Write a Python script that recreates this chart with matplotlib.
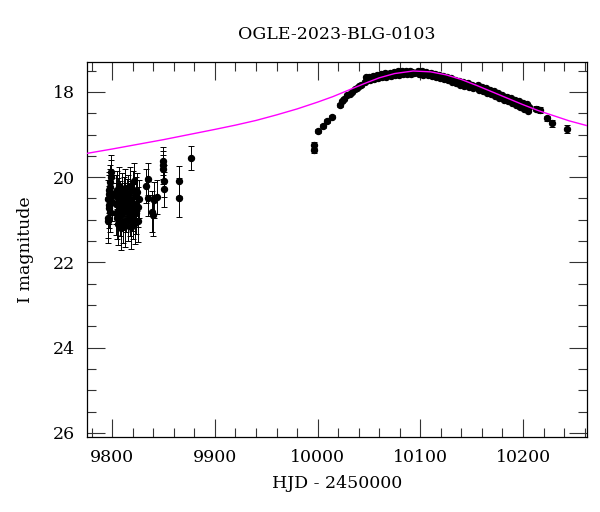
import matplotlib
matplotlib.use('Agg')
import matplotlib.pyplot as plt
import matplotlib.ticker as ticker

plt.rcParams['font.family'] = ['DejaVu Serif']

TITLE = "OGLE-2023-BLG-0103"

# --- baseline (faint, noisy) ---
base_hjd = [9795.6, 9796.0, 9796.2, 9796.5, 9796.8, 9797.0, 9797.3, 9797.5,
            9797.8, 9798.0, 9798.3, 9798.6, 9798.9, 9799.2, 9799.5,
            9803.2, 9803.6, 9804.0, 9804.5, 9805.0, 9805.5, 9806.0, 9806.5,
            9807.0, 9807.5, 9808.0, 9808.6, 9809.2, 9809.8, 9810.4, 9811.0,
            9811.6, 9812.2, 9812.8, 9813.4, 9814.0, 9815.0, 9815.6, 9816.2,
            9816.8, 9817.4, 9818.0, 9818.6, 9819.2, 9819.8, 9820.4, 9821.0,
            9821.6, 9822.2, 9822.8, 9823.4, 9824.0, 9824.6, 9825.2, 9825.8,
            9832.5, 9834.5, 9835.0, 9838.4, 9839.3, 9840.6, 9843.2,
            9849.7, 9849.7, 9849.9, 9850.0, 9850.2, 9864.6, 9864.6, 9876.6]
base_mag = [20.52, 20.95, 21.04, 20.30, 20.65, 20.40, 20.73, 20.22,
            20.11, 20.81, 20.46, 19.99, 19.87, 20.38, 20.58,
            20.40, 20.62, 20.85, 20.30, 20.95, 20.50, 21.10, 20.70,
            20.20, 20.55, 20.90, 21.20, 20.35, 20.75, 21.05, 20.45,
            20.60, 21.15, 20.25, 20.80, 20.50, 21.00, 20.40, 20.65,
            20.90, 20.20, 21.18, 20.55, 20.78, 20.30, 20.95, 20.10,
            20.62, 21.08, 20.45, 20.85, 20.35, 20.70, 21.02, 20.52,
            20.21, 20.50, 20.05, 20.81, 20.89, 20.54, 20.46,
            19.62, 19.72, 19.82, 20.09, 20.29, 20.09, 20.48, 19.55]
base_err = [0.45, 0.48, 0.50, 0.42, 0.45, 0.44, 0.46, 0.42,
            0.40, 0.47, 0.44, 0.40, 0.38, 0.42, 0.45,
            0.46, 0.48, 0.50, 0.44, 0.50, 0.47, 0.50, 0.48,
            0.44, 0.47, 0.49, 0.50, 0.45, 0.48, 0.50, 0.46,
            0.47, 0.50, 0.44, 0.48, 0.46, 0.50, 0.45, 0.47,
            0.49, 0.43, 0.50, 0.46, 0.48, 0.44, 0.49, 0.42,
            0.46, 0.50, 0.45, 0.48, 0.44, 0.47, 0.49, 0.45,
            0.40, 0.42, 0.38, 0.48, 0.48, 0.42, 0.40,
            0.32, 0.33, 0.34, 0.38, 0.40, 0.36, 0.46, 0.28]

# --- rising branch ---
rise_hjd = [9996.4, 9996.8, 10000.6, 10004.9, 10008.8, 10013.6, 10021.7,
            10023.5, 10025.5, 10028.8, 10031.5, 10033.0, 10036.3, 10038.0,
            10040.5, 10042.5]
rise_mag = [19.25, 19.36, 18.91, 18.80, 18.68, 18.58, 18.31,
            18.22, 18.16, 18.07, 18.04, 18.00, 17.93, 17.90,
            17.87, 17.85]
rise_err = [0.07, 0.08, 0.05, 0.04, 0.04, 0.04, 0.04,
            0.03, 0.03, 0.03, 0.03, 0.03, 0.03, 0.03,
            0.03, 0.03]

# --- peak (dense) ---
peak_hjd = [10046, 10047, 10048, 10050, 10051, 10052, 10054, 10055, 10056,
            10058, 10059, 10060, 10062, 10063, 10064, 10066, 10067, 10068,
            10070, 10071, 10072, 10074, 10075, 10076, 10078, 10079, 10080,
            10082, 10083, 10084, 10086, 10087, 10088, 10090, 10091, 10092,
            10094, 10098, 10099, 10100, 10102, 10103, 10104, 10106, 10107,
            10108, 10110, 10111, 10112, 10114, 10115, 10116, 10118, 10119,
            10120, 10122, 10123, 10124, 10126, 10127, 10128, 10130, 10131,
            10132, 10134, 10135, 10136, 10138, 10139, 10140, 10142, 10143,
            10144, 10146, 10147, 10148, 10150, 10151, 10156, 10157, 10158,
            10160, 10161, 10162, 10164, 10165, 10166, 10168, 10169, 10170,
            10172, 10173, 10174, 10176, 10177, 10178, 10180, 10181, 10182,
            10184, 10185, 10186, 10188, 10189, 10190, 10192, 10193, 10194,
            10196, 10197, 10198, 10200, 10201, 10202, 10204, 10205, 10206]
peak_mag = [17.76, 17.66, 17.71, 17.64, 17.73, 17.67, 17.62, 17.70, 17.65,
            17.60, 17.68, 17.63, 17.58, 17.66, 17.61, 17.56, 17.64, 17.59,
            17.55, 17.62, 17.58, 17.53, 17.61, 17.56, 17.52, 17.60, 17.55,
            17.51, 17.59, 17.54, 17.51, 17.58, 17.54, 17.50, 17.58, 17.53,
            17.55, 17.51, 17.59, 17.54, 17.52, 17.60, 17.55, 17.53, 17.61,
            17.57, 17.55, 17.63, 17.59, 17.57, 17.65, 17.61, 17.60, 17.68,
            17.63, 17.62, 17.70, 17.66, 17.65, 17.73, 17.69, 17.68, 17.76,
            17.72, 17.71, 17.79, 17.75, 17.74, 17.83, 17.78, 17.77, 17.86,
            17.81, 17.80, 17.89, 17.84, 17.83, 17.92, 17.85, 17.95, 17.90,
            17.88, 17.98, 17.93, 17.91, 18.02, 17.96, 17.95, 18.06, 18.00,
            17.99, 18.10, 18.04, 18.03, 18.14, 18.08, 18.07, 18.18, 18.12,
            18.11, 18.22, 18.16, 18.14, 18.26, 18.19, 18.18, 18.31, 18.23,
            18.22, 18.36, 18.27, 18.25, 18.40, 18.31, 18.29, 18.44, 18.35]
PEAK_ERR = 0.03

# --- late tail ---
tail_hjd = [10213.0, 10216.5, 10223.0, 10228.6, 10242.5]
tail_mag = [18.39, 18.43, 18.62, 18.74, 18.87]
tail_err = [0.05, 0.07, 0.06, 0.08, 0.10]

# --- model light curve ---
model_hjd = [9776, 9800, 9825, 9850, 9875, 9900, 9920, 9940, 9960, 9980,
             10000, 10015, 10030, 10045, 10060, 10075, 10093, 10110, 10125,
             10140, 10155, 10170, 10185, 10200, 10215, 10230, 10245, 10262]
model_mag = [19.44, 19.34, 19.23, 19.12, 19.00, 18.88, 18.78, 18.67, 18.54,
             18.40, 18.24, 18.11, 17.96, 17.81, 17.67, 17.57, 17.51, 17.53,
             17.60, 17.71, 17.85, 18.00, 18.15, 18.30, 18.44, 18.56, 18.68,
             18.79]


fig = plt.figure(figsize=(6.0, 5.12), dpi=100)
ax = fig.add_axes([0.1455, 0.147, 0.8323, 0.731])

hjd = base_hjd + rise_hjd + peak_hjd + tail_hjd
mag = base_mag + rise_mag + peak_mag + tail_mag
err = base_err + rise_err + [PEAK_ERR] * len(peak_hjd) + tail_err

ax.errorbar(hjd, mag, yerr=err, fmt='o', color='black', ms=4.3,
            elinewidth=0.7, capsize=2.2, capthick=0.7, zorder=2)
ax.plot(model_hjd, model_mag, color='#ff00ff', lw=1.0, zorder=3)

ax.set_xlim(9775.7, 10262)
ax.set_ylim(26.09, 17.31)

ax.xaxis.set_major_locator(ticker.MultipleLocator(100))
ax.xaxis.set_minor_locator(ticker.MultipleLocator(20))
ax.yaxis.set_major_locator(ticker.MultipleLocator(2))
ax.yaxis.set_minor_locator(ticker.MultipleLocator(0.5))
ax.tick_params(which='both', direction='in', top=True, right=True,
               labelsize=12.5, width=0.8, color='#333333')
ax.tick_params(which='major', length=13, pad=9)
ax.tick_params(which='minor', length=6.5)
for s in ax.spines.values():
    s.set_linewidth(0.9)

ax.set_xlabel("HJD - 2450000", fontsize=12.5, labelpad=6)
ax.set_ylabel("I magnitude", fontsize=12.5, labelpad=13)
ax.set_title(TITLE, fontsize=12.5, pad=17)

fig.savefig("out.png", dpi=100)
plt.close()
